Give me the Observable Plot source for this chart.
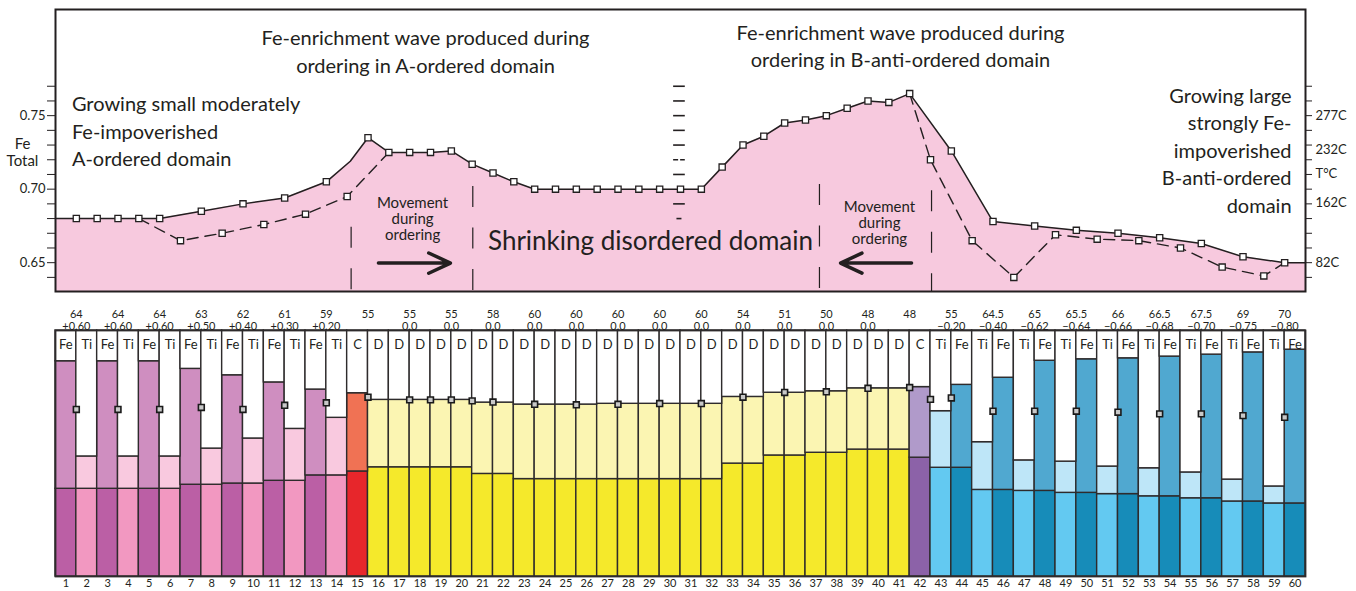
<!DOCTYPE html>
<html><head><meta charset="utf-8">
<script src="https://cdn.jsdelivr.net/npm/d3@7"></script>
<script src="https://cdn.jsdelivr.net/npm/@observablehq/plot@0.6"></script>
<style>
body{margin:0;background:#fff;}
#chart{width:1356px;height:591px;position:relative;font-family:Lato,sans-serif;background:#fff;}
#chart svg{display:block;}
</style></head><body><div id="chart"></div>
<script>
// ---------- TOP PANEL DATA (Fe total vs. position, x = bar edge index) ----------
const solidX = [0,1,2,3,4,5,7,9,11,13,14.15,15,16,17,18,19,20,21,22,23,24,25,26,27,28,29,30,31,32,33,34,35,36,37,38,39,40,41,43,45,47,49,51,53,55,57,59,60];
const solidY = [0.68,0.68,0.68,0.68,0.68,0.68,0.685,0.69,0.694,0.705,0.719,0.735,0.725,0.725,0.725,0.726,0.717,0.711,0.705,0.70,0.70,0.70,0.70,0.70,0.70,0.70,0.70,0.70,0.715,0.73,0.736,0.745,0.747,0.75,0.755,0.76,0.759,0.765,0.726,0.678,0.675,0.672,0.67,0.667,0.663,0.654,0.65,0.65];
const dashAX = [4,6,8,10,12,14,16];
const dashAY = [0.68,0.665,0.67,0.676,0.683,0.695,0.725];
const dashBX = [41,42,44,46,48,50,52,54,56,58,59];
const dashBY = [0.765,0.72,0.665,0.64,0.669,0.666,0.665,0.660,0.647,0.641,0.65];
const yTicks = [0.64,0.65,0.66,0.67,0.68,0.69,0.70,0.71,0.72,0.73,0.74,0.75,0.76,0.77];
const yLabelTicks = [0.65,0.70,0.75];
const tempLabels = ["277C","232C","T°C","162C","82C"];
const tempLevels = [0.75,0.7265,0.7105,0.691,0.65];
const midDashLevels = [0.77,0.76,0.75,0.74,0.73,0.72,0.71,0.69,0.68];
const boundaryX = [14.19,20.03,36.67,42.05];
const boundaryTop = [0.6741,0.7018,0.7032,0.6990];

// ---------- BOTTOM PANEL DATA (60 bars) ----------
const barLetters = ["Fe","Ti","Fe","Ti","Fe","Ti","Fe","Ti","Fe","Ti","Fe","Ti","Fe","Ti","C",
  "D","D","D","D","D","D","D","D","D","D","D","D","D","D","D","D","D","D","D","D","D","D","D","D","D","D",
  "C","Ti","Fe","Ti","Fe","Ti","Fe","Ti","Fe","Ti","Fe","Ti","Fe","Ti","Fe","Ti","Fe","Ti","Fe"];
const barTop = [87.5,48.8,87.5,48.8,87.5,48.8,84.4,52.0,81.8,56.1,78.9,60.0,76.0,64.5,74.5,
  71.8,71.8,71.8,71.8,71.8,70.7,70.7,69.9,69.9,69.9,69.9,70.2,70.2,70.2,70.2,70.2,70.2,73.0,73.0,74.7,74.7,75.3,75.3,76.5,76.5,76.5,
  77.0,67.2,77.9,54.6,80.8,47.2,87.7,46.7,88.3,44.7,88.7,44.0,89.4,42.3,90.2,39.4,91.1,36.6,92.2];
const barMid = [35.65,35.65,35.65,35.65,35.65,35.65,37.3,37.3,37.8,37.8,38.9,38.9,41.1,41.1,42.7,
  44.4,44.4,44.4,44.4,44.4,41.7,41.7,39.6,39.6,39.6,39.6,39.6,39.6,39.6,39.6,39.6,39.6,45.9,45.9,49.2,49.2,50.3,50.3,51.6,51.6,51.6,
  48.3,44.2,44.2,35.2,35.2,34.8,34.8,34.0,34.0,33.5,33.5,32.6,32.6,31.8,31.8,30.5,30.5,29.7,29.7];
const markX = [1,3,5,7,9,11,13,15,17,18,19,20,21,23,25,27,29,31,33,35,37,39,41,42,43,45,47,49,51,53,55,57,59];
const markY = [67.9,67.9,67.9,68.7,67.9,69.6,70.6,72.9,71.8,71.8,71.8,71.4,70.9,70.0,69.8,70.0,70.3,70.3,72.9,74.8,75.1,76.5,76.8,72.0,72.6,67.2,67.2,67.2,66.8,66.1,66.1,65.4,64.7];
const labelEdges = [1,3,5,7,9,11,13,15,17,19,21,23,25,27,29,31,33,35,37,39,41,43,45,47,49,51,53,55,57,59];
const labelTop = ["64","64","64","63","62","61","59","55","55","55","58","60","60","60","60","60","54","51","50","48","48","55","64.5","65","65.5","66","66.5","67.5","69","70"];
const labelSub = ["+0.60","+0.60","+0.60","+0.50","+0.40","+0.30","+0.20","","0.0","0.0","0.0","0.0","0.0","0.0","0.0","0.0","0.0","0.0","0.0","0.0","","−0.20","−0.40","−0.62","−0.64","−0.66","−0.68","−0.70","−0.75","−0.80"];

// ---------- ANNOTATIONS (top panel) ----------
const titleA = ["Fe-enrichment wave produced during","ordering in A-ordered domain"];
const titleB = ["Fe-enrichment wave produced during","ordering in B-anti-ordered domain"];
const noteA = ["Growing small moderately","Fe-impoverished","A-ordered domain"];
const noteB = ["Growing large","strongly Fe-","impoverished","B-anti-ordered","domain"];
const moveText = ["Movement","during","ordering"];

const ink = "#231f20";
const pink = "#f7c9de";
const W = 1356, mL = 55, mR = 51;
const yDom = [0.6304, 0.8222];
const fontF = "Lato, sans-serif";

const solid = solidX.map((x,i)=>({x, y: solidY[i]}));
const dashA = dashAX.map((x,i)=>({x, y: dashAY[i]}));
const dashB = dashBX.map((x,i)=>({x, y: dashBY[i]}));
const solidMarks = solid.filter(d => Number.isInteger(d.x) && d.x > 0 && d.x < 60);
const dashMarks = dashA.slice(1,-1).concat(dashB.slice(1,-1));
const lines = (arr, x, ys) => arr.map((t,i)=>({t, x, y: ys[i]}));

const topPlot = Plot.plot({
  width: W, height: 300, marginLeft: mL, marginRight: mR, marginTop: 9, marginBottom: 9,
  x: {domain: [0,60], axis: null},
  y: {domain: yDom, axis: null},
  style: {fontFamily: fontF, color: ink, background: "transparent", overflow: "visible"},
  marks: [
    Plot.areaY(solid, {x: "x", y1: yDom[0], y2: "y", fill: pink}),
    Plot.ruleX(boundaryX.map((x,i)=>({x, top: boundaryTop[i]})), {x: "x", y1: "top", y2: yDom[0], stroke: ink, strokeWidth: 1.2, strokeDasharray: "21,20.5"}),
    Plot.ruleY(midDashLevels.filter(v => v !== 0.72 && v !== 0.68), {y: d => d, x1: 29.67, x2: 30.23, stroke: ink, strokeWidth: 1.6}),
    Plot.ruleY(midDashLevels.filter(v => v === 0.72), {y: d => d, x1: 29.67, x2: 30.23, stroke: ink, strokeWidth: 1.6, strokeDasharray: "5,2"}),
    Plot.ruleY(midDashLevels.filter(v => v === 0.68), {y: d => d, x1: 29.83, x2: 30.07, stroke: ink, strokeWidth: 1.6}),
    Plot.line(dashA, {x: "x", y: "y", stroke: ink, strokeWidth: 1.4, strokeDasharray: "11,7"}),
    Plot.line(dashB, {x: "x", y: "y", stroke: ink, strokeWidth: 1.4, strokeDasharray: "11,7"}),
    Plot.line(solid, {x: "x", y: "y", stroke: ink, strokeWidth: 1.5}),
    Plot.dot(solidMarks, {x: "x", y: "y", symbol: "square", r: 3.5, fill: "white", stroke: ink, strokeWidth: 1.3}),
    Plot.dot(dashMarks, {x: "x", y: "y", symbol: "square", r: 3.5, fill: "white", stroke: ink, strokeWidth: 1.3}),
    Plot.arrow([{x1: 15.5, x2: 18.96, y: 0.6497}], {x1: "x1", x2: "x2", y1: "y", y2: "y", stroke: ink, strokeWidth: 3.5, headLength: 13, headAngle: 50}),
    Plot.arrow([{x1: 41.09, x2: 37.68, y: 0.6497}], {x1: "x1", x2: "x2", y1: "y", y2: "y", stroke: ink, strokeWidth: 3.5, headLength: 13, headAngle: 50}),
    Plot.axisY(yTicks, {anchor: "left", tickSize: 8, tickPadding: 2, label: null, fontSize: 13, stroke: ink,
      tickFormat: d => yLabelTicks.some(v => Math.abs(v - d) < 1e-9) ? d.toFixed(2) : ""}),
    Plot.axisY(yTicks, {anchor: "right", tickSize: 6, label: null, tickFormat: () => "", stroke: ink}),
    Plot.text(tempLabels.map((t,i)=>({t, y: tempLevels[i]})), {y: "y", text: "t", frameAnchor: "right", dx: 10, textAnchor: "start", fontSize: 13, fill: ink}),
    Plot.text([{t:"Fe", y:0.7309},{t:"Total", y:0.7190}], {y: "y", text: "t", frameAnchor: "left", dx: -33, textAnchor: "middle", fontSize: 15, fill: ink}),
    Plot.text(lines(titleA, 17.76, [0.8023,0.7837]), {x: "x", y: "y", text: "t", fontSize: 20, fill: ink}),
    Plot.text(lines(titleB, 40.56, [0.8057,0.7876]), {x: "x", y: "y", text: "t", fontSize: 20, fill: ink}),
    Plot.text(lines(noteA, 0.787, [0.7574,0.7388,0.72]), {x: "x", y: "y", text: "t", textAnchor: "start", fontSize: 20, fill: ink}),
    Plot.text(lines(noteB, 59.33, [0.7631,0.7444,0.7256,0.7069,0.6882]), {x: "x", y: "y", text: "t", textAnchor: "end", fontSize: 20, fill: ink}),
    Plot.text(lines(moveText, 17.14, [0.6903,0.6794,0.6685]), {x: "x", y: "y", text: "t", fontSize: 15, fill: ink}),
    Plot.text(lines(moveText, 39.55, [0.6876,0.6767,0.6658]), {x: "x", y: "y", text: "t", fontSize: 15, fill: ink}),
    Plot.text([{t:"Shrinking disordered domain", x: 28.56, y: 0.6644}], {x: "x", y: "y", text: "t", fontSize: 26, fill: ink}),
    Plot.frame({stroke: ink, strokeWidth: 2})
  ]
});

// ---------- bottom panel ----------
const groupOf = (i, L) => i <= 14 ? L + "A" : (L === "C" ? (i < 30 ? "CA" : "CB") : (L === "D" ? "D" : L + "B"));
const darkCol = {FeA:"#bb5fa5", TiA:"#f298c1", CA:"#e7262b", D:"#f5e92b", CB:"#8c62a8", TiB:"#63c9f1", FeB:"#178cb9"};
const lightCol = {FeA:"#cf8ec0", TiA:"#f9c9df", CA:"#f07254", D:"#fbf5b2", CB:"#b09aca", TiB:"#bee6f8", FeB:"#50a8d0"};
const bars = barLetters.map((L,k)=>({i: k+1, x1: k, x2: k+1, c: k+0.5, L, g: groupOf(k+1, L), top: barTop[k], mid: barMid[k]}));
const marks = markX.map((x,i)=>({x, y: markY[i]}));
const labels = labelEdges.map((x,i)=>({x, a: labelTop[i], b: labelSub[i]}));
const barStroke = "#2e2b2c";

const botPlot = Plot.plot({
  width: W, height: 291, marginLeft: mL, marginRight: mR, marginTop: 30, marginBottom: 15,
  x: {domain: [0,60], axis: null},
  y: {domain: [0,100], axis: null},
  color: {type: "identity"},
  style: {fontFamily: fontF, color: ink, background: "transparent", overflow: "visible"},
  marks: [
    Plot.rect(bars, {x1: "x1", x2: "x2", y1: 0, y2: "mid", fill: d => darkCol[d.g], stroke: barStroke, strokeWidth: 1.4}),
    Plot.rect(bars, {x1: "x1", x2: "x2", y1: "mid", y2: "top", fill: d => lightCol[d.g], stroke: barStroke, strokeWidth: 1.4}),
    Plot.rect(bars, {x1: "x1", x2: "x2", y1: "top", y2: 100, fill: "white", stroke: barStroke, strokeWidth: 1.4}),
    Plot.frame({stroke: barStroke, strokeWidth: 1.8}),
    Plot.dot(marks, {x: "x", y: "y", symbol: "square", r: 3.3, fill: "#c9c9c9", stroke: "#1a1a1a", strokeWidth: 1.6}),
    Plot.text(bars, {x: "c", text: "L", frameAnchor: "top", dy: 9, fontSize: 13, fill: ink}),
    Plot.text(bars, {x: "c", text: "i", frameAnchor: "bottom", dy: 10, fontSize: 11, fill: ink}),
    Plot.text(labels, {x: "x", text: "a", frameAnchor: "top", dy: -20, fontSize: 11, fill: ink}),
    Plot.text(labels, {x: "x", text: "b", frameAnchor: "top", dy: -8, fontSize: 11, fill: ink})
  ]
});

const chart = document.getElementById("chart");
chart.appendChild(topPlot);
chart.appendChild(botPlot);
</script></body></html>
